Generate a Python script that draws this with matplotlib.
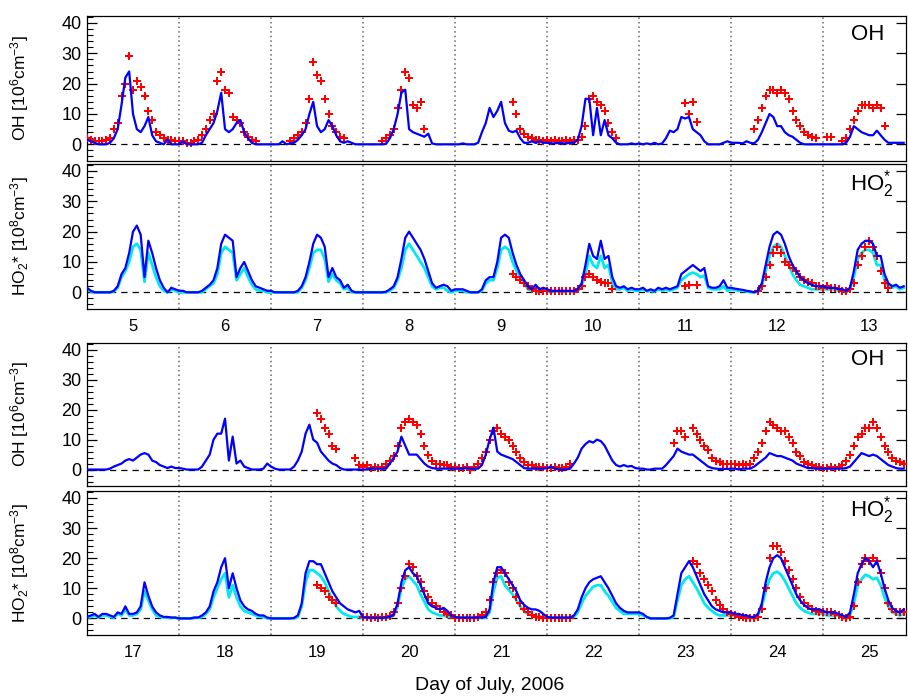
import numpy as np
import matplotlib
matplotlib.use("Agg")
import matplotlib.pyplot as plt
from matplotlib.ticker import MultipleLocator

plt.rcParams['font.family'] = ['Liberation Sans', 'DejaVu Sans']
plt.rcParams['mathtext.fontset'] = 'custom'
plt.rcParams['mathtext.rm'] = 'Liberation Sans'
plt.rcParams['mathtext.it'] = 'Liberation Sans:italic'

N = None  # no measurement

# ---------------- data: hourly values (hour 0..23 of each day) ----------------
days_a = [5, 6, 7, 8, 9, 10, 11, 12, 13]
days_b = [17, 18, 19, 20, 21, 22, 23, 24, 25]

# OH [1e6 cm-3], days 5-13 : model (blue) and measured (red)
oh_mod_a = (
    [1.5, 1, 0.5, 0, 0, 0, 0.5, 2, 5, 13, 22, 24, 10, 5, 4, 6, 9, 3, 1, 0.5, 0, 1.5, 0, 0] +
    [0, 1, 0, 0, 0, 0, 0.5, 3, 5, 7, 11, 17, 5, 4, 5, 7, 8, 4, 2, 0.5, 0, 0, 0, 0] +
    [0, 0, 0, 1, 0, 0.3, 0.5, 1.5, 3, 5, 10, 14, 6, 4, 5, 8, 6, 3, 1, 0.5, 1, 0.5, 0, 0] +
    [0, 0, 0, 0, 0, 0, 0.2, 2, 5, 10, 17, 18, 5, 4, 3.5, 3, 2.5, 3.5, 0.3, 0, 0, 0, 0, 0] +
    [0, 0, 0.3, 0, 0, 0, 0.5, 4, 7, 12, 9, 11, 14, 7, 4.5, 4, 4.5, 2, 0.5, 0.5, 1, 0.5, 1, 0.5] +
    [0.5, 0.3, 0.3, 0.5, 0.3, 0.3, 0.5, 0.5, 1.5, 6, 15, 15, 3, 12, 3, 8, 3, 2, 0.5, 0, 0, 0, 0.3, 0] +
    [0.3, 0, 0.3, 0, 0.5, 0, 0.3, 2, 4.5, 4, 5, 9, 8.5, 9, 5, 4, 3, 1, 0, 0, 0, 0, 0.5, 1] +
    [0.5, 0.5, 0.5, 0.3, 1, 0.5, 0.3, 1.5, 4, 7, 10, 9, 6, 6, 4, 3, 2.5, 1.5, 0.5, 0, 0, 0, 0, 0] +
    [0, 0, 0, 0, 0, 0, 0.5, 2.5, 6, 5, 4, 3.5, 3, 3, 4.5, 3, 1.5, 0.5, 0.5, 0.5, 0.5, 0.5]
)
oh_obs_a = (
    [2, 1.5, 1, 1, 1, 1.5, 2, 5, 7, 16, 20, 29, 18, 21, 19, 16, 11, 8, 4, 3, 2, 1.5, 1.5, 1] +
    [1, 1, 0.5, 0.5, 1, 1.5, 3, 5, 8, 10, 21, 24, 18, 17, 9, 8, 7, 4, 2.5, 1.5, 1, N, N, N] +
    [N, N, N, N, N, 1, 2, 3, 4, 7, 15, 27, 23, 21, 15, 10, 6, 4, 2.5, 2, N, N, N, N] +
    [N, N, N, N, N, 1, 2, 3, 5, 12, 18, 24, 22, 13, 12, 14, 5, N, N, N, N, N, N, N] +
    [N, N, N, N, N, N, N, N, N, N, N, N, N, N, N, 14, 10, 5, 3.5, 2.5, 2, 1.5, 1.5, 1] +
    [1.5, 1, 1.5, 1, 1, 1.5, 1, 1.5, 1.5, 2.5, 6, 15, 16, 14, 13, 11, 7, 4, 2, N, N, N, N, N] +
    [N, N, N, N, N, N, N, N, N, N, N, N, 13.5, 10, 14, 7.5, N, N, N, N, N, N, N, N] +
    [N, N, N, N, N, N, 5, 8, 12, 16, 18, 18, 17, 18, 17, 15, 11, 8, 6, 4, 3, 2.5, 2, N] +
    [N, 2.5, 2.5, N, N, 1, 2, 5, 8, 11, 13, 13, 13, 12, 13, 12, 6, N, N, N, N, N]
)

# HO2* [1e8 cm-3], days 5-13 : model (blue), second model (cyan), measured (red)
ho2_mod_a = (
    [1.5, 0.5, 0, 0, 0, 0, 0, 0.5, 2, 6, 8, 13, 20, 22, 19, 5, 17, 13, 8, 4, 1.5, 0, 1.5, 1] +
    [0.5, 0.5, 0, 0, 0, 0, 0.5, 1.5, 2.5, 4, 8, 16, 19, 18, 17, 5, 8, 10, 7, 4, 2, 1.5, 1, 0.5] +
    [0.5, 0, 0, 0, 0, 0, 0, 0.5, 2, 5, 10, 16, 19, 18, 15, 5, 8, 5, 4, 1.5, 2.5, 0.5, 0, 0] +
    [0, 0, 0, 0, 0, 0, 0.2, 1, 2, 5, 11, 18, 20, 18, 16, 14, 11, 7, 3, 1.5, 2, 2.5, 2, 0.5] +
    [1, 1, 1, 0.5, 0, 0, 0, 1, 4, 5, 5, 10, 18, 19, 18, 13, 9, 6, 4, 2, 1, 2.5, 1, 1.5] +
    [1, 0.5, 0.5, 0.5, 0.5, 0.5, 0.5, 0.5, 1, 3, 9, 16, 12, 11, 17, 11, 12, 5, 2, 1.5, 2, 1, 1.5, 1] +
    [1, 1.5, 0.5, 1, 0.5, 1.5, 1, 1.5, 1, 1.5, 2, 6, 7, 8, 9, 8, 7, 8, 2, 1.5, 1.5, 2, 4, 1.5] +
    [1.5, 1.2, 1, 0.8, 0.5, 0.3, 0, 0.5, 3, 9, 15, 19, 20, 19, 16, 12, 9, 7, 5, 4, 3, 2.5, 2, 2] +
    [2, 1.5, 1.5, 1.5, 1, 1, 0.5, 1.5, 7, 14, 16, 17, 17, 16, 12, 12, 6, 3, 2, 2.5, 1.5, 2]
)
ho2_cyan_a = (
    [1, 0.3, 0, 0, 0, 0, 0, 0.3, 1.5, 5, 7, 10, 15, 16, 14, 3.5, 13, 9, 5, 2, 0.5, 0, 1, 0.5] +
    [0, 0, 0, 0, 0, 0, 0, 1, 2, 3, 6, 13, 15, 14, 13, 4, 6, 8, 5, 2.5, 1, 0.5, 0.5, 0] +
    [0, 0, 0, 0, 0, 0, 0, 0, 1.5, 4, 8, 13, 14, 14, 11, 3.5, 6, 4, 3, 1, 1.5, 0, 0, 0] +
    [0, 0, 0, 0, 0, 0, 0, 0.5, 1.5, 4, 8, 14, 16, 14, 12, 10, 8, 5, 2, 1, 1.5, 1.5, 0.5, 0] +
    [0.5, 0.5, 0.5, 0, 0, 0, 0, 0.5, 3, 4, 4, 8, 14, 15, 14, 10, 7, 5, 3, 1, 0.5, 1.5, 0.5, 1] +
    [0.5, 0.3, 0.3, 0.3, 0.3, 0.3, 0.3, 0.3, 0.5, 2, 6, 12, 9, 8, 12, 8, 9, 3, 1, 1, 1.5, 0.5, 1, 0.5] +
    [0.5, 1, 0.3, 0.5, 0.3, 1, 0.5, 1, 0.5, 1, 1.5, 4, 5, 6, 6.5, 6, 5, 5.5, 1.5, 1, 1, 1, 2, 0.5] +
    [1, 0.8, 0.5, 0.5, 0.3, 0, 0, 0.3, 2, 7, 12, 15, 16, 15, 12, 9, 6, 4, 2.5, 2, 1.5, 1, 1, 1] +
    [1, 1, 1, 1, 0.5, 0.5, 0.3, 1, 5, 11, 13, 14, 14, 13, 9, 9, 4, 2, 1.5, 2, 1, 1.5]
)
ho2_obs_a = (
    [N] * 24 + [N] * 24 + [N] * 24 + [N] * 24 +
    [N, N, N, N, N, N, N, N, N, N, N, N, N, N, N, 6, 5, 4, 3, 2, 1, 0.5, 0.5, 0.5] +
    [0.5, 0.5, 0.5, 0.3, 0.3, 0.3, 0.5, 0.5, 1, 2, 5, 6, 5, 4, 3.5, 3, 3, 1, N, N, N, N, N, N] +
    [N, N, N, N, N, N, N, N, N, N, N, N, 2, 2.5, N, 2.5, N, N, N, N, N, N, N, N] +
    [N, N, N, N, N, N, N, 0.5, 2, 5, 9, 13, 15, 13, 10, 9, 8, 7, 5, 4, 3.5, 3, 2, 2] +
    [1.5, 2, 1.5, 1.5, 1, 0.5, 0.5, 1, 3, 9, 12, 15, 17, 15, 12, 7, 3, 1.5, N, N, N, N]
)

# OH [1e6 cm-3], days 17-25
oh_mod_b = (
    [0, 0, 0, 0, 0, 0, 0.3, 1, 1.5, 2, 3, 3.5, 3, 4, 5, 5.5, 5, 3, 2.5, 1.5, 1, 0.5, 1, 0.5] +
    [0.5, 0.3, 0, 0, 0, 0, 1, 3, 5, 10, 12, 12, 17, 3, 11, 2, 3, 1, 0.5, 0, 0, 0, 0.3, 2] +
    [1, 0.3, 0, 0, 0, 0, 1, 3, 6, 12, 15, 10, 9, 6, 4.5, 3, 2, 1.5, 0.5, 0, 0, 0, 0, 0] +
    [0, 0, 0.3, 0.3, 0.3, 0.3, 0.3, 2, 4, 6, 11, 8, 5, 5, 5, 3.5, 2, 1, 0.5, 0.3, 0.3, 0.3, 0.3, 0.3] +
    [0.3, 0.3, 0.3, 0.5, 0.3, 0.3, 0.3, 1.5, 5, 10, 14, 6, 5, 4.5, 4, 3.5, 2.5, 1.5, 0.5, 0.3, 0.3, 0.3, 0.3, 0.3] +
    [0.5, 1, 0.3, 0, 0, 0, 0.3, 2, 4, 7, 8.5, 9.5, 9, 10, 9.5, 8, 5.5, 3, 1.5, 1, 1.5, 1, 1.2, 0.5] +
    [0.3, 0.3, 0, 0, 0.3, 0.3, 0.3, 1.5, 3, 4.5, 7, 6, 5.5, 5, 5, 4, 3, 2, 1, 0.5, 0.3, 0.2, 0.2, 0.2] +
    [0.3, 0.3, 0, 0.3, 0.3, 0.3, 1, 2, 3, 4, 5.5, 5, 4.5, 4.5, 4, 3.5, 3, 2, 1.5, 1, 0.5, 0.5, 0.3, 0.3] +
    [0.3, 0.3, 0.3, 0.3, 0.3, 0.3, 0.5, 1, 2.5, 4, 5.5, 5, 4.5, 5, 4.5, 3.5, 2.5, 1.5, 1, 0.5, 0.3, 0.3]
)
oh_obs_b = (
    [N] * 24 + [N] * 24 +
    [N, N, N, N, N, N, N, N, N, N, N, N, 19, 17, 14, 12, 8, 7, N, N, N, N, 4, 1.5] +
    [1, 1.5, 0.5, 1, 0.5, 1, 2, 3, 4.5, 8, 14, 16, 17, 16, 15, 12, 8, 5, 3, 2, 2, 1.5, 1.5, 1] +
    [1, 0.5, 0.5, 1, 0, 1, 2, 4, 6, 10, 13, 14, 12, 11, 10, 8, 6, 4, 2.5, 1.5, 1.5, 1, 1, 1] +
    [0.5, 0.5, 1, 0.5, 0.5, 1, 2, N, N, N, N, N, N, N, N, N, N, N, N, N, N, N, N, N] +
    [N, N, N, N, N, N, N, N, N, 9, 13, 13, 11, N, 14, 12, 10, 8, 6.5, 4, 3, 2.5, 2, 2] +
    [2, 2, 1.5, 2, 1.5, 2, 4, 6, 9, 13, 16, 15, 14, 13, 13, 11, 9, 6, 4.5, 2.5, 2, 1.5, 1, 1] +
    [0.5, 0.5, 1, 0.5, 1, 1.5, 3, 5, 8, 11, 12, 14, 14, 16, 14, 11, 8, 6, 4, 3, 2.5, 2]
)

# HO2* [1e8 cm-3], days 17-25
ho2_mod_b = (
    [0.5, 1, 1.5, 0.5, 1.5, 1.5, 1, 0.5, 2, 1.5, 4, 1.5, 1.5, 2, 4, 12, 7.5, 4, 2, 1, 0.5, 0.5, 0.3, 0.3] +
    [0, 0, 0, 0, 0.3, 0.3, 1, 2, 4, 9, 12, 17, 20, 10, 15, 10, 6, 4, 3, 2.5, 1.5, 1, 1, 0.3] +
    [0, 0, 0, 0, 0, 0, 0.2, 1, 5, 15, 19, 19, 18, 18, 15, 12, 9, 7, 5, 4, 3, 2.5, 2, 2.5] +
    [0.3, 0.3, 0.2, 0.2, 0.2, 0.2, 0.3, 0.5, 1.5, 5, 12, 16, 17, 15, 14, 11, 8, 5, 4, 3.5, 3, 3.5, 2.5, 1] +
    [0.5, 0.3, 0.3, 0.3, 0.3, 0.3, 0.3, 0.3, 0.5, 3, 12, 17, 17, 15, 13, 11, 9, 6, 4.5, 3.5, 3, 3, 2.5, 1.5] +
    [0.5, 0.3, 0.3, 0.3, 0.3, 0.3, 0.3, 1, 3, 7, 10, 12, 13, 13.5, 14, 12, 10, 7.5, 5, 3.5, 2.5, 2, 2, 2] +
    [2, 1.5, 0.5, 0, 0, 0, 0, 0, 0.2, 1, 8, 15, 17, 19, 17, 14, 11, 8, 6, 4, 3, 2.5, 2, 2] +
    [2, 1.5, 1.5, 1, 1, 0.5, 0.5, 1.5, 5, 12, 17, 20, 21, 20, 17, 14, 11, 8, 6, 4.5, 3.5, 3, 3, 3] +
    [2.5, 2, 2, 2, 1.5, 1, 0.5, 2, 8, 15, 18, 20, 19, 17, 19, 15, 10, 6, 3.5, 2.5, 2, 3]
)
ho2_cyan_b = (
    [0.3, 0.5, 1, 0.3, 1, 1, 0.5, 0.3, 1.5, 1, 3, 1, 1, 1.5, 3, 9, 6, 3, 1, 0.5, 0.3, 0.3, 0.2, 0.2] +
    [0, 0, 0, 0, 0.2, 0.2, 0.5, 1.5, 3, 7, 10, 13, 15, 7, 11, 7, 4, 2.5, 2, 1.5, 1, 0.5, 0.5, 0] +
    [0, 0, 0, 0, 0, 0, 0, 0.5, 4, 12, 16, 16, 15, 14, 12, 9, 6, 4, 2.5, 1.5, 1, 0.5, 0.5, 0.5] +
    [0.2, 0.2, 0.2, 0.2, 0.2, 0.2, 0.2, 0.3, 1, 4, 10, 13, 14, 12.5, 11, 8, 5.5, 3, 2, 1.5, 1, 1, 0.5, 0.5] +
    [0.3, 0.2, 0.2, 0.2, 0.2, 0.2, 0.2, 0.2, 0.3, 2, 9, 13.5, 14, 11, 9.5, 8, 6, 4, 2.5, 1.5, 1, 1, 0.7, 0.5] +
    [0.3, 0.2, 0.2, 0.2, 0.2, 0.2, 0.2, 0.5, 2, 5, 7.5, 9, 10.5, 11, 11, 9, 7.5, 5.5, 3.5, 2.5, 1.5, 1.5, 1.5, 1.5] +
    [1.5, 1, 0.3, 0, 0, 0, 0, 0, 0, 0.5, 6, 11, 13, 14, 12, 10, 7.5, 5, 3.5, 2.5, 1.5, 1, 1, 1] +
    [1, 1, 1, 0.5, 0.5, 0.3, 0.3, 1, 4, 9, 13, 15, 15.5, 14.5, 12.5, 10, 7.5, 5, 3.5, 2.5, 2, 1.5, 1.5, 1.5] +
    [1.5, 1, 1, 1, 1, 0.5, 0.3, 1, 5, 11, 13, 14.5, 14, 13, 13.5, 11, 7, 4, 2, 1.5, 1, 1.5]
)
ho2_obs_b = (
    [N] * 24 + [N] * 24 +
    [N, N, N, N, N, N, N, N, N, N, N, N, 11, 10, 9, 7, 6, 5, N, N, N, N, N, N] +
    [0.5, 0.5, 0.3, 0.5, 0.3, 0.5, 0.5, 0.8, 2, 5, 10, 14, 18, 17, 14, 12, 9, 7, 5, 4, 3, 2, 1.5, 1] +
    [0.3, 0.2, 0.3, 0.2, 0.3, 0.3, 0.5, 1, 2, 6, 12, 15, 16, 15, 12, 10, 7, 5, 3, 2, 1, 0.5, 0.5, 0.3] +
    [0.3, 0.3, 0.3, 0.3, 0.3, 0.3, 0.3, N, N, N, N, N, N, N, N, N, N, N, N, N, N, N, N, N] +
    [N, N, N, N, N, N, N, N, N, N, N, N, N, N, 19, 18, 15, 13, 11, 9, 6, 4.5, 3, 2] +
    [1.5, 1, 0.5, 0.5, 0, 0, 0, 0.5, 3, 10, 20, 24, 24, 22, 19, 16, 13, 10, 7, 5, 4, 3, 2.5, 2] +
    [2, 2, 2, 1.5, 1, 0.5, 0, 0.5, 4, 12, 18, 20, 19, 20, 19, 15, 10, 5, 3, 2, 2, 2]
)

# ---------------- figure ----------------
W, H = 908, 696
fig = plt.figure(figsize=(W / 100, H / 100), dpi=100)


def px_axes(top, bottom, left=87, right=906):
    return fig.add_axes([left / W, (H - bottom) / H, (right - left) / W, (bottom - top) / H])


BLUE = '#0000ff'
CYAN = '#00e8f0'
RED = '#ff0000'


def hours(first_day, n):
    return first_day - 0.5 + np.arange(n) / 24.0


def style(ax, days, show_x, ylabel, tag, tag_x, tag_y):
    ax.set_xlim(days[0] - 0.5, days[-1] + 0.4)
    ax.set_ylim(-5.5, 42.3)
    ax.set_yticks([0, 10, 20, 30, 40])
    ax.yaxis.set_minor_locator(MultipleLocator(2))
    ax.tick_params(axis='y', which='major', direction='in', length=7, width=0.9,
                   left=True, right=True, labelsize=13, pad=4)
    ax.tick_params(axis='y', which='minor', direction='in', length=4, width=0.8,
                   left=True, right=False)
    ax.set_xticks(days)
    ax.tick_params(axis='x', which='both', length=0, pad=7, labelsize=12,
                   labelbottom=show_x)
    for d in days[:-1]:
        ax.axvline(d + 0.5, color='0.4', ls=(0, (1, 2)), lw=1.1, zorder=1)
    ax.axhline(0, color='k', ls=(0, (5, 4)), lw=0.9, zorder=1)
    for s in ax.spines.values():
        s.set_linewidth(0.9)
    ax.set_ylabel(ylabel, fontsize=12.5)
    ax.yaxis.set_label_coords(-0.068, 0.5)
    ax.text(tag_x, tag_y, tag, transform=ax.transAxes, ha='right', va='center', fontsize=16)


OH_LABEL = r'OH [10$^{\mathregular{6}}$cm$^{\mathregular{-3}}$]'
HO2_LABEL = r'HO$_{\mathregular{2}}$* [10$^{\mathregular{8}}$cm$^{\mathregular{-3}}$]'
HO2_TAG = r'HO$_{\mathregular{2}}^{\mathregular{*}}$'

panels = [
    (16, 161, days_a, oh_mod_a, None, oh_obs_a, OH_LABEL, 'OH', 0.974, 0.872, False),
    (164, 309, days_a, ho2_mod_a, ho2_cyan_a, ho2_obs_a, HO2_LABEL, HO2_TAG, 0.985, 0.862, True),
    (343, 486, days_b, oh_mod_b, None, oh_obs_b, OH_LABEL, 'OH', 0.974, 0.885, False),
    (491, 635, days_b, ho2_mod_b, ho2_cyan_b, ho2_obs_b, HO2_LABEL, HO2_TAG, 0.985, 0.868, True),
]

for top, bottom, days, mod, cyan, obs, ylab, tag, tag_x, tag_y, show_x in panels:
    ax = px_axes(top, bottom)
    t = hours(days[0], len(mod))
    if cyan is not None:
        ax.plot(t, np.array(cyan, dtype=float), color=CYAN, lw=2.0, zorder=2)
    ax.plot(t, np.array(obs, dtype=float), ls='none', marker='P', ms=6,
            color=RED, mec=RED, mew=0, zorder=3)
    ax.plot(t, np.array(mod, dtype=float), color=BLUE, lw=1.6, zorder=4)
    style(ax, days, show_x, ylab, tag, tag_x, tag_y)

fig.text(490 / W, 1 - 686 / H, 'Day of July, 2006', ha='center', va='center', fontsize=14)

fig.savefig('out.png', dpi=100)
